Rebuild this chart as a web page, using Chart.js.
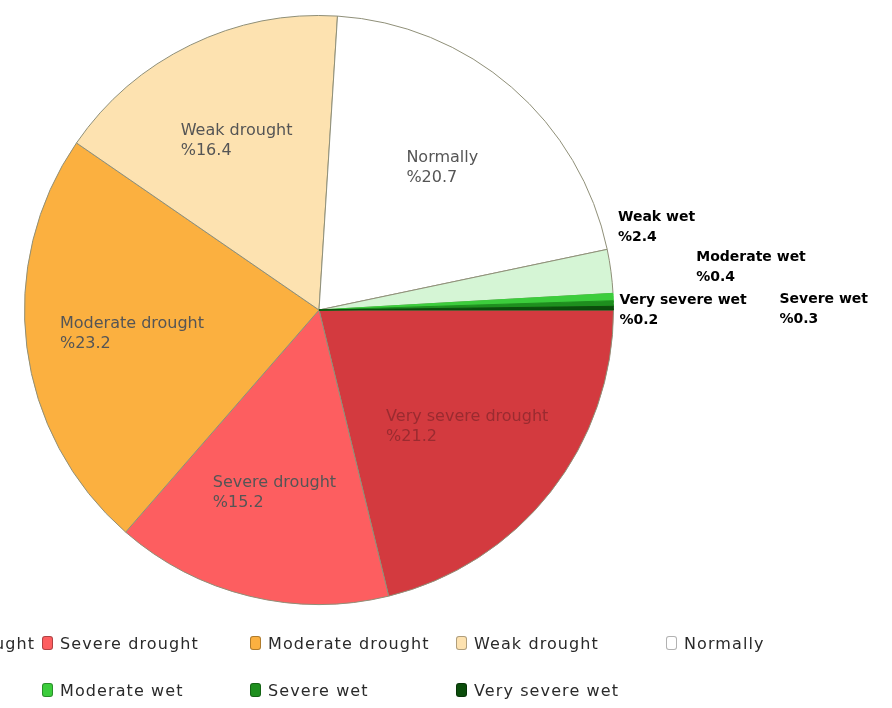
<!DOCTYPE html>
<html><head><meta charset="utf-8">
<script src="https://cdn.jsdelivr.net/npm/chart.js@4.4.1/dist/chart.umd.min.js"></script>
<style>
html,body{margin:0;padding:0;background:#fff;width:892px;height:708px;overflow:hidden;}
#wrap{position:absolute;left:0;top:0;width:892px;height:708px;}
#legend{position:absolute;left:0;top:0;width:892px;height:708px;pointer-events:none;font-family:"DejaVu Sans",sans-serif;font-size:16px;letter-spacing:1.1px;color:#2a2a2a;}
.item{position:absolute;white-space:nowrap;display:flex;align-items:center;height:20px;}
.box{width:11px;height:14px;border-radius:3px;margin-right:7px;box-sizing:border-box;border:1px solid rgba(0,0,0,0.3);flex:none;}
</style></head>
<body>
<div id="wrap"><canvas id="c" width="892" height="708"></canvas></div>
<div id="legend"></div>
<script>
// ---- data ----
const categories = ["Very severe drought", "Severe drought", "Moderate drought", "Weak drought", "Normally",
                    "Weak wet", "Moderate wet", "Severe wet", "Very severe wet"];
const shares = [21.2, 15.2, 23.2, 16.4, 20.7, 2.4, 0.4, 0.3, 0.2];
const valueLabels = ["%21.2", "%15.2", "%23.2", "%16.4", "%20.7", "%2.4", "%0.4", "%0.3", "%0.2"];

// ---- styles ----
const sliceColors = ["#d33a3f", "#fd5e60", "#fbb040", "#fde2b0", "#ffffff", "#d5f5d5", "#3ccd3c", "#1e8f1e", "#0b4d0b"];
const sliceBorders = ["#8f8f78", "#8f8f78", "#8f8f78", "#8f8f78", "#8f8f78", "#8f8f78", "#3ccd3c", "#1e8f1e", "#0b4d0b"];
const labelColors = ["#9a2b30", "#555555", "#555555", "#555555", "#555555", "#000", "#000", "#000", "#000"];
// offsets (px) of outside labels from the outer mid point of their slice
const outsideOffsets = {5: [7, -54], 6: [83, -40], 7: [166, -4], 8: [6, -8]};

const sliceLabels = {
  id: 'sliceLabels',
  afterDatasetsDraw(chart) {
    const ctx = chart.ctx;
    const meta = chart.getDatasetMeta(0);
    const lineH = 20;
    meta.data.forEach((arc, i) => {
      const p = arc.getProps(['x', 'y', 'startAngle', 'endAngle', 'outerRadius'], true);
      const mid = (p.startAngle + p.endAngle) / 2;
      const lines = [categories[i], valueLabels[i]];
      ctx.save();
      ctx.textAlign = 'left';
      ctx.textBaseline = 'middle';
      ctx.fillStyle = labelColors[i];
      let x, y;
      const off = outsideOffsets[i];
      if (off) {
        ctx.font = 'bold 14px "DejaVu Sans"';
        x = p.x + Math.cos(mid) * p.outerRadius + off[0];
        y = p.y + Math.sin(mid) * p.outerRadius + off[1];
      } else {
        ctx.font = '16px "DejaVu Sans"';
        const r = p.outerRadius * 0.64;
        const cx = p.x + Math.cos(mid) * r, cy = p.y + Math.sin(mid) * r;
        const w = Math.max(...lines.map(l => ctx.measureText(l).width));
        x = cx - w / 2;
        y = cy - lineH / 2;
      }
      lines.forEach((l, k) => ctx.fillText(l, x, y + k * lineH));
      ctx.restore();
    });
  }
};

new Chart(document.getElementById('c'), {
  type: 'pie',
  data: {
    labels: categories,
    datasets: [{
      data: shares,
      backgroundColor: sliceColors,
      borderColor: sliceBorders,
      borderWidth: 1
    }]
  },
  options: {
    responsive: false,
    animation: false,
    rotation: 90,
    layout: {padding: {left: 24, top: 14, right: 278, bottom: 102}},
    plugins: {legend: {display: false}, tooltip: {enabled: false}}
  },
  plugins: [sliceLabels]
});

// ---- legend (grid, cropped at the left like the reference) ----
const legendCols = [-166, 42, 250, 456, 666];
const legendRows = [643, 690];
const legend = document.getElementById('legend');
categories.forEach((name, i) => {
  const row = i < 5 ? 0 : 1;
  const col = i < 5 ? i : i - 5;
  const it = document.createElement('div');
  it.className = 'item';
  it.style.left = legendCols[col] + 'px';
  it.style.top = (legendRows[row] - 10) + 'px';
  const b = document.createElement('span');
  b.className = 'box';
  b.style.background = sliceColors[i];
  const t = document.createElement('span');
  t.textContent = name;
  it.appendChild(b); it.appendChild(t);
  legend.appendChild(it);
});
</script>
</body></html>
